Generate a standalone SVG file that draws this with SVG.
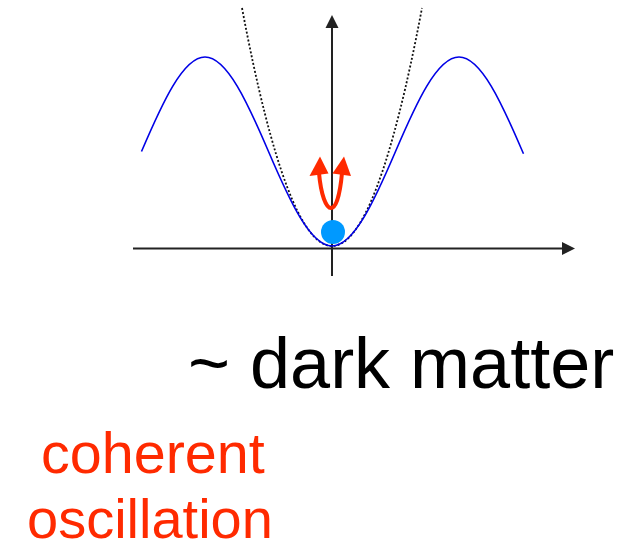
<svg xmlns="http://www.w3.org/2000/svg" width="640" height="550" viewBox="0 0 640 550">
<style>
.axis{stroke:#222;stroke-width:2;fill:none}
.head{fill:#222}
.pot{stroke:#0000e6;stroke-width:1.6;fill:none}
.approx{stroke:#111;stroke-width:1.8;stroke-dasharray:2 2;fill:none}
.osc{stroke:#ff2a00;stroke-width:4;fill:none;stroke-linecap:round}
.oschead{fill:#ff2a00}
.big{font-family:"Liberation Sans",Arial,sans-serif;font-size:72px;fill:#000}
.red{font-family:"Liberation Sans",Arial,sans-serif;font-size:56px;fill:#ff2a00}
</style>
<g id="connectors">
<line class="axis" x1="133" y1="248.5" x2="564" y2="248.5"/>
<polygon class="head" points="575,248.5 562,242 562,255"/>
<line class="axis" x1="332" y1="276" x2="332" y2="26"/>
<polygon class="head" points="332,15 325.5,28 338.5,28"/>
<path class="approx" d="M 242 8 Q 332 484.1 422 8"/>
<path class="pot" d="M 141.5 151.5 C 162.21 103.09 183.1 57 205 57 C 226.9 57 247.79 103.09 268.5 151.5 C 289.21 199.91 310.1 246 332 246 C 353.9 246 374.79 199.91 395.5 151.5 C 416.21 103.09 437.1 57 459 57 C 480.9 57 501.79 103.09 522.5 151.5 L 523.5 153.8"/>
<path class="osc" d="M 319 173 C 321 195 326 208 331 208 C 336 208 340 195 342 173"/>
<polygon class="oschead" points="320,156.5 309.5,176 328.5,173.5"/>
<polygon class="oschead" points="344,156.5 332.5,173.5 351,176"/>
</g>
<g id="ball">
<circle cx="333" cy="232" r="12" fill="#0099ff"/>
</g>
<g id="label-dark-matter">
<text class="big" x="188" y="388">~ dark matter</text>
</g>
<g id="label-coherent">
<text class="red" x="41" y="473" style="font-size:57.5px">coherent</text>
<text class="red" x="27" y="538">oscillation</text>
</g>
</svg>
